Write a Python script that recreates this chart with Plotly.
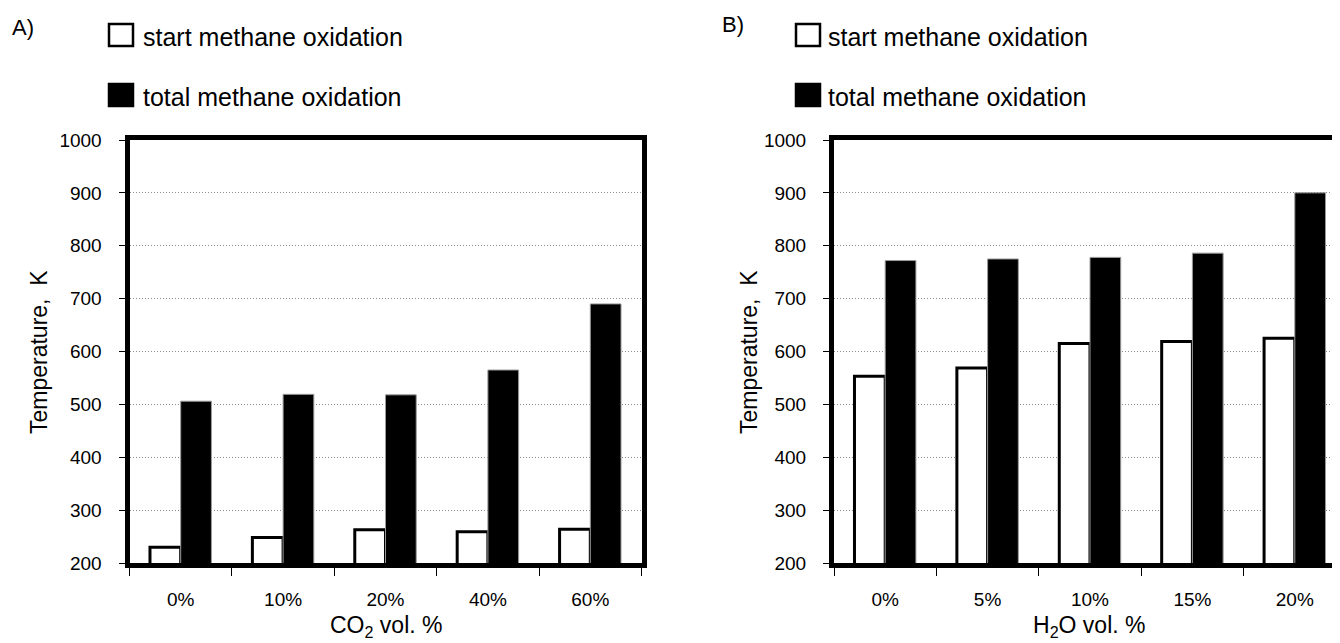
import plotly.graph_objects as go

# The page adds an 8 px body margin, so the figure is 8 px smaller and all
# reference-pixel positions are shifted by that offset.
OFF = 8
W, H = 1340 - OFF, 643 - OFF

# ---- data ----
co2_levels = ["0%", "10%", "20%", "40%", "60%"]
co2_start = [230, 248, 263, 259, 264]
co2_total = [506, 519, 518, 565, 690]

h2o_levels = ["0%", "5%", "10%", "15%", "20%"]
h2o_start = [553, 569, 615, 619, 625]
h2o_total = [772, 775, 778, 786, 900]

y_ticks = [200, 300, 400, 500, 600, 700, 800, 900, 1000]
series_names = ["start methane oxidation", "total methane oxidation"]

FONT = "Liberation Sans, Arial, sans-serif"


def px_x(p):
    return (p - OFF) / W


def px_y(p):
    return 1 - (p - OFF) / H


fig = go.Figure()

white_style = dict(marker=dict(color="white", line=dict(color="black", width=3)))
black_style = dict(marker=dict(color="black", line=dict(color="#9a9a9a", width=1)))

fig.add_trace(go.Bar(x=co2_levels, y=co2_start, name=series_names[0],
                     xaxis="x", yaxis="y", **white_style))
fig.add_trace(go.Bar(x=co2_levels, y=co2_total, name=series_names[1],
                     xaxis="x", yaxis="y", **black_style))
fig.add_trace(go.Bar(x=h2o_levels, y=h2o_start, name=series_names[0],
                     xaxis="x2", yaxis="y2", **white_style))
fig.add_trace(go.Bar(x=h2o_levels, y=h2o_total, name=series_names[1],
                     xaxis="x2", yaxis="y2", **black_style))

ydom = [px_y(563), px_y(140)]

common_x = dict(type="category", showgrid=False, showline=True, linecolor="black",
                linewidth=5, ticks="outside", tickson="boundaries", ticklen=8,
                tickwidth=1, tickcolor="black", ticklabelstandoff=15,
                automargin=False,
                tickfont=dict(family=FONT, size=19, color="black"))
common_y = dict(range=[200, 1000], tickvals=y_ticks, showgrid=True,
                gridcolor="#8c8c8c", griddash="1px,2px", gridwidth=1,
                showline=True, linecolor="black", linewidth=5,
                ticks="outside", ticklen=6, tickwidth=1, tickcolor="black",
                ticklabelstandoff=13, zeroline=False, automargin=False,
                tickfont=dict(family=FONT, size=19, color="black"), domain=ydom)

cat_w = 102.4
n_cat = len(h2o_levels)
fig.update_layout(
    width=W, height=H,
    margin=dict(l=0, r=0, t=0, b=0, autoexpand=False),
    paper_bgcolor="white", plot_bgcolor="white",
    showlegend=False,
    barmode="group", bargap=0.4, bargroupgap=0.0,
    xaxis=dict(domain=[px_x(129.5), px_x(129.5 + 5 * cat_w)], anchor="y", mirror=True,
               range=[-0.5, n_cat - 0.5], **common_x),
    yaxis=dict(anchor="x", mirror=True, **common_y),
    xaxis2=dict(domain=[px_x(834), 1.0], anchor="y2", mirror=True,
                range=[-0.5, -0.5 + (1340 - 834) / cat_w], **common_x),
    yaxis2=dict(anchor="x2", mirror=False, **common_y),
)

annotations = []
shapes = []


def add_text(x, y, text, size, angle=0, xanchor="left"):
    annotations.append(dict(x=px_x(x), y=px_y(y), xref="paper", yref="paper",
                            text=text, showarrow=False, textangle=angle,
                            xanchor=xanchor, yanchor="middle",
                            font=dict(family=FONT, size=size, color="black")))


def add_square(x0, y0, x1, y1, fill):
    shapes.append(dict(type="rect", xref="paper", yref="paper",
                       x0=px_x(x0), x1=px_x(x1), y0=px_y(y1), y1=px_y(y0),
                       fillcolor=fill, line=dict(color="black", width=2.5)))


# panel labels
add_text(10, 27, "A)", 22)
add_text(720, 24, "B)", 22)

# legends (custom, one per panel)
for sx, tx in [(109, 141), (796, 826)]:
    add_square(sx, 24, sx + 24, 46, "white")
    add_text(tx, 37, series_names[0], 25)
    add_square(sx, 84, sx + 24, 106, "black")
    add_text(tx, 97, series_names[1], 25)

# axis titles
add_text(39, 352, "Temperature,  K", 23, angle=-90, xanchor="center")
add_text(749, 352, "Temperature,  K", 23, angle=-90, xanchor="center")
add_text(386, 626, "CO<sub>2</sub> vol. %", 23, xanchor="center")
add_text(1089, 626, "H<sub>2</sub>O vol. %", 23, xanchor="center")

fig.update_layout(annotations=annotations, shapes=shapes)

fig.write_html("out.html")
